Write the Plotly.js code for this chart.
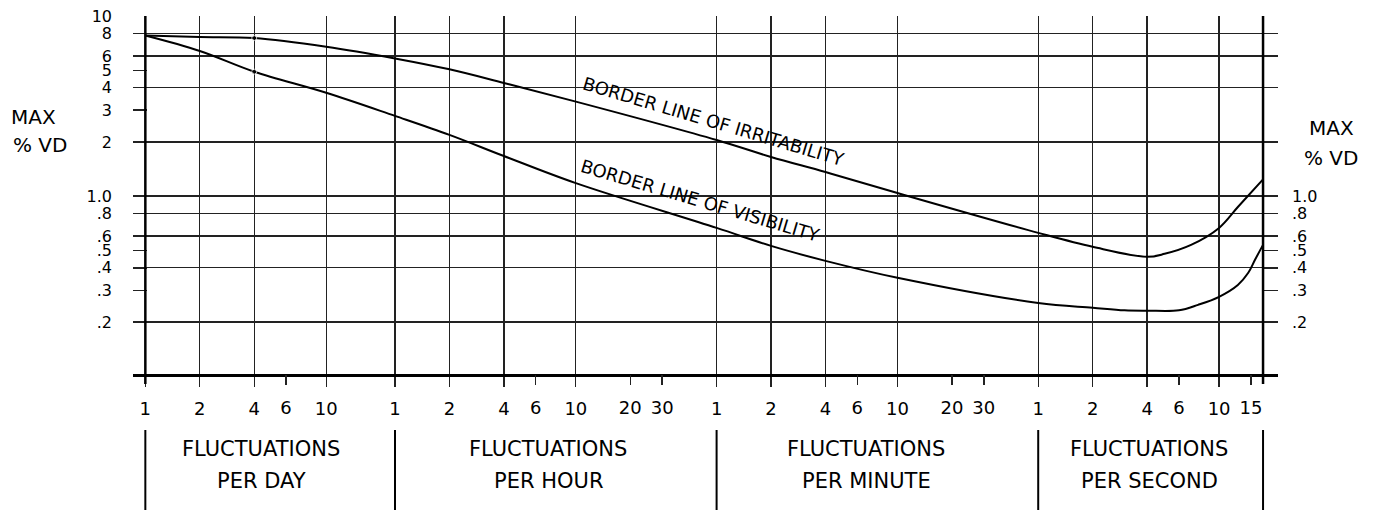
<!DOCTYPE html>
<html><head><meta charset="utf-8">
<script src="https://cdn.plot.ly/plotly-3.0.1.min.js"></script>
<style>html,body{margin:0;padding:0;background:#fff}#chart{width:1380px;height:510px}</style>
</head><body><div id="chart"></div>
<script>
// ---- units: every x value is expressed in fluctuations per minute ----
const UNIT = {day: 1/1440, hour: 1/60, minute: 1, second: 60};

// x ticks that carry a vertical grid line
const xGridCount = [1,2,4,10, 1,2,4,10, 1,2,4,10, 1,2,4,10];
const xGridUnit  = ['day','day','day','day','hour','hour','hour','hour','minute','minute','minute','minute','second','second','second','second'];
// x ticks without grid line
const xTickCount = [6, 6,20,30, 6,20,30, 6,15];
const xTickUnit  = ['day','hour','hour','hour','minute','minute','minute','second','second'];

// y ticks
const yGridVals  = [8,6,4,2,1,0.8,0.6,0.4,0.2];
const yGridText  = ['8','6','4','2','1.0','.8','.6','.4','.2'];
const yTickVals  = [5,3,0.5,0.3];
const yTickText  = ['5','3','.5','.3'];
const yTopVals   = [10];
const yTopText   = ['10'];
const yRightVals = [1,0.8,0.6,0.5,0.4,0.3,0.2];
const yRightText = ['1.0','.8','.6','.5','.4','.3','.2'];

// border line of irritability
const irrCount = [1,2,4,10, 1,2,4,10, 1,2,4,10, 1,2,4,5,7,10,12.7,17.5];
const irrUnit  = ['day','day','day','day','hour','hour','hour','hour','minute','minute','minute','minute','second','second','second','second','second','second','second','second'];
const irrValue = [7.8,7.65,7.55,6.76, 5.82,5.06,4.25,3.35, 2.05,1.65,1.36,1.04, 0.625,0.523,0.46,0.478,0.536,0.666,0.87,1.24];

// border line of visibility
const visCount = [1,2,4,10, 1,2,4,10, 1,2,4,10, 1,2,3,4,6,7.65,10,12.7,14.5,15.8,17.5];
const visUnit  = ['day','day','day','day','hour','hour','hour','hour','minute','minute','minute','minute','second','second','second','second','second','second','second','second','second','second','second'];
const visValue = [7.8,6.4,4.91,3.75, 2.79,2.19,1.67,1.18, 0.666,0.529,0.437,0.352, 0.255,0.240,0.232,0.231,0.232,0.249,0.276,0.321,0.375,0.443,0.536];

// chart frame (left and right border) and section boundaries
const frameCount = [1, 17.5];
const frameUnit  = ['day','second'];
const sepCount = [1,1,1,1,17.5];
const sepUnit  = ['day','hour','minute','second','second'];
const sectionTop    = ['FLUCTUATIONS','FLUCTUATIONS','FLUCTUATIONS','FLUCTUATIONS'];
const sectionBottom = ['PER DAY','PER HOUR','PER MINUTE','PER SECOND'];

function toX(counts, units){ return counts.map((c,i)=>c*UNIT[units[i]]); }

const W=1380, H=510, L=133, R=102, T=16, B=136;
const plotW=W-L-R, plotH=H-T-B;
const px = v => (v-L)/plotW;
const py = v => (H-B-v)/plotH;
const FONT = 'DejaVu Sans';
const xRange = [-3.2266, 3.1039];
const yRange = [-0.988, 1.0005];

const irrX = toX(irrCount, irrUnit);
const visX = toX(visCount, visUnit);
const markSize = (counts, units) => counts.map((c,i)=> (c===4 && units[i]==='day') ? 5 : 0);

const traces = [
  {x: irrX, y: irrValue, mode:'lines+markers', line:{color:'#000', width:2, shape:'spline', smoothing:1},
   marker:{size: markSize(irrCount, irrUnit), color:'#000'}, hoverinfo:'skip', showlegend:false},
  {x: visX, y: visValue, mode:'lines+markers', line:{color:'#000', width:2, shape:'spline', smoothing:1},
   marker:{size: markSize(visCount, visUnit), color:'#000'}, hoverinfo:'skip', showlegend:false},
  {x:[], y:[], xaxis:'x2', yaxis:'y2', showlegend:false, hoverinfo:'skip'},
  {x:[], y:[], xaxis:'x', yaxis:'y3', showlegend:false, hoverinfo:'skip'},
  {x:[], y:[], xaxis:'x', yaxis:'y4', showlegend:false, hoverinfo:'skip'}
];

const tf = {family: FONT, size: 18, color:'#000'};
const yf = {family: FONT, size: 16, color:'#000'};
const baseY = {type:'log', range: yRange, tickmode:'array', zeroline:false, showline:false, tickfont: yf, fixedrange:true};

const frameX = toX(frameCount, frameUnit);
const sepX = toX(sepCount, sepUnit);
const shapes = [];
frameX.forEach(x => shapes.push({type:'line', xref:'x', yref:'paper', x0:x, x1:x, y0:py(384), y1:1, line:{color:'#000', width:2.5}}));
sepX.forEach(x => shapes.push({type:'line', xref:'x', yref:'paper', x0:x, x1:x, y0:py(430), y1:py(510), line:{color:'#000', width:2}}));

const secCenters = [261, 548, 866, 1149];
const annotations = [];
secCenters.forEach((c,i) => {
  annotations.push({xref:'paper', yref:'paper', x:px(c), y:py(449), text:sectionTop[i], showarrow:false, xanchor:'center', yanchor:'middle', font:{family:FONT, size:21, color:'#000'}});
  annotations.push({xref:'paper', yref:'paper', x:px(c), y:py(481), text:sectionBottom[i], showarrow:false, xanchor:'center', yanchor:'middle', font:{family:FONT, size:21, color:'#000'}});
});
const lf = {family: FONT, size: 20, color:'#000'};
annotations.push({xref:'paper', yref:'paper', x:px(33), y:py(117), text:'MAX', showarrow:false, xanchor:'center', yanchor:'middle', font:lf});
annotations.push({xref:'paper', yref:'paper', x:px(40), y:py(145), text:'% VD', showarrow:false, xanchor:'center', yanchor:'middle', font:lf});
annotations.push({xref:'paper', yref:'paper', x:px(1331), y:py(128), text:'MAX', showarrow:false, xanchor:'center', yanchor:'middle', font:lf});
annotations.push({xref:'paper', yref:'paper', x:px(1331), y:py(158), text:'% VD', showarrow:false, xanchor:'center', yanchor:'middle', font:lf});
annotations.push({xref:'paper', yref:'paper', x:px(714), y:py(121), text:'BORDER LINE OF IRRITABILITY', textangle:16.5, showarrow:false, xanchor:'center', yanchor:'middle', font:{family:FONT, size:18, color:'#000'}});
annotations.push({xref:'paper', yref:'paper', x:px(700), y:py(201), text:'BORDER LINE OF VISIBILITY', textangle:16.5, showarrow:false, xanchor:'center', yanchor:'middle', font:{family:FONT, size:18, color:'#000'}});

const layout = {
  width: W, height: H, margin:{l:L, r:R, t:T, b:B, pad:0},
  paper_bgcolor:'#fff', plot_bgcolor:'#fff', showlegend:false,
  font:{family: FONT, color:'#000'},
  xaxis:{type:'log', range:xRange, tickmode:'array', tickvals: toX(xGridCount, xGridUnit), ticktext: xGridCount.map(String),
         showgrid:true, gridcolor:'#222', gridwidth:1.3, ticks:'outside', ticklen:10, tickwidth:1.3, tickcolor:'#222',
         showline:true, linecolor:'#000', linewidth:2.5, zeroline:false, tickangle:0, tickfont: tf, ticklabelstandoff:7, fixedrange:true},
  xaxis2:{type:'log', range:xRange, overlaying:'x', anchor:'y', side:'bottom', tickmode:'array',
          tickvals: toX(xTickCount, xTickUnit), ticktext: xTickCount.map(String), showgrid:false,
          ticks:'outside', ticklen:10, tickwidth:1.5, tickcolor:'#222', showline:false, zeroline:false, tickangle:0,
          tickfont: tf, ticklabelstandoff:7, fixedrange:true},
  yaxis: Object.assign({}, baseY, {tickvals: yGridVals, ticktext: yGridText, showgrid:true, gridcolor:'#222', gridwidth:1.3,
          ticks:'inside', ticklen:14, tickwidth:1.5, tickcolor:'#222', ticklabelstandoff:20}),
  yaxis3: Object.assign({}, baseY, {overlaying:'y', side:'left', anchor:'x', tickvals: yTickVals, ticktext: yTickText, showgrid:false,
          ticks:'inside', ticklen:14, tickwidth:1.5, tickcolor:'#222', ticklabelstandoff:20}),
  yaxis4: Object.assign({}, baseY, {overlaying:'y', side:'left', anchor:'x', tickvals: yTopVals, ticktext: yTopText, showgrid:false,
          ticks:'', ticklabelstandoff:20}),
  yaxis2: Object.assign({}, baseY, {overlaying:'y', side:'right', anchor:'x', tickvals: yRightVals, ticktext: yRightText, showgrid:false,
          ticks:'inside', ticklen:15, tickwidth:1.5, tickcolor:'#222', ticklabelstandoff:13}),
  shapes: shapes,
  annotations: annotations
};

Plotly.newPlot('chart', traces, layout, {displayModeBar:false, staticPlot:true});
</script>
</body></html>
